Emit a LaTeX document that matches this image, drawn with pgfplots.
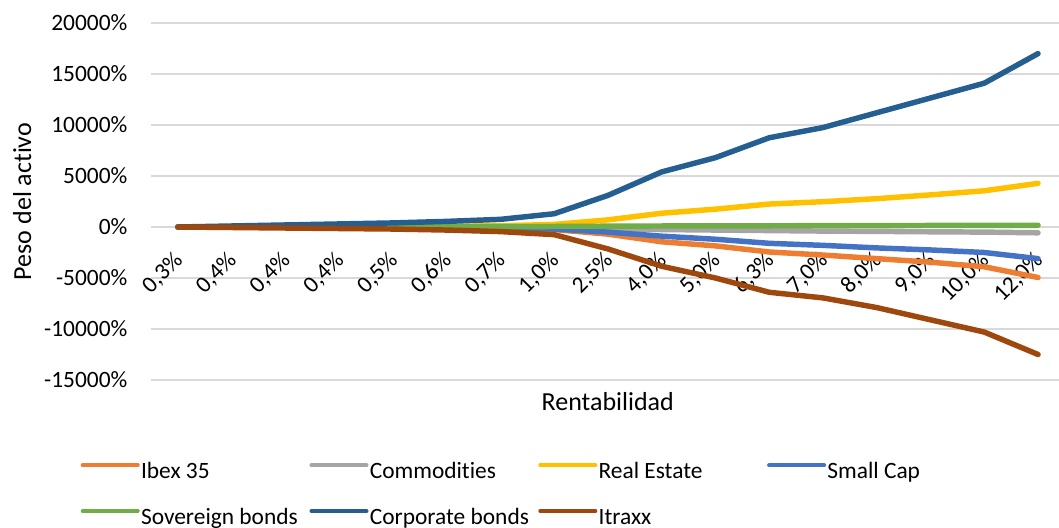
\documentclass[border=0pt]{standalone}
\usepackage{pgfplots}
\pgfplotsset{compat=1.18}
\usepackage{fontspec}
\setmainfont{Carlito}[Ligatures=NoCommon]
\definecolor{cIbex}{HTML}{ED7D31}
\definecolor{cComm}{HTML}{A5A5A5}
\definecolor{cReal}{HTML}{FFC000}
\definecolor{cSmall}{HTML}{4472C4}
\definecolor{cSov}{HTML}{70AD47}
\definecolor{cCorp}{HTML}{255E91}
\definecolor{cItr}{HTML}{9E480E}
\definecolor{cGrid}{HTML}{D9D9D9}
\newcommand{\lt}[1]{\makebox[64.8pt][l]{\rule[-6pt]{0pt}{17.5pt}#1}}
\begin{document}
\begin{tikzpicture}
\path[use as bounding box] (0,0) rectangle (407.31pt,203.08pt);
\begin{axis}[
  at={(58.08pt,194.23pt)}, anchor=north west,
  scale only axis, width=349.23pt, height=137.31pt,
  xmin=-0.5, xmax=16.39, ymin=-15000, ymax=20000,
  scaled y ticks=false,
  axis x line=middle, axis y line=left, axis line style={draw=none},
  major tick length=0pt,
  xtick={0,...,16},
  xticklabels={{0,3\%},{0,4\%},{0,4\%},{0,4\%},{0,5\%},{0,6\%},{0,7\%},{1,0\%},{2,5\%},{4,0\%},{5,0\%},{6,3\%},{7,0\%},{8,0\%},{9,0\%},{10,0\%},{12,0\%}},
  xticklabel style={rotate=45, anchor=east, font=\fontsize{9}{10.8}\selectfont, inner sep=1pt, yshift=-8.4pt, xshift=-6.6pt},
  ytick={-15000,-10000,-5000,0,5000,10000,15000,20000},
  yticklabels={-15000\%,-10000\%,-5000\%,0\%,5000\%,10000\%,15000\%,20000\%},
  yticklabel style={font=\fontsize{9}{10.8}\selectfont, anchor=east, inner sep=0pt, xshift=-8.9pt},
  ymajorgrids, major grid style={cGrid, line width=0.75pt},
  xlabel={Rentabilidad}, ylabel={Peso del activo},
  xlabel style={at={(axis description cs:0.503,-0.061)}, anchor=center, font=\fontsize{10}{12}\selectfont},
  ylabel style={at={(axis description cs:-0.142,0.5)}, anchor=center, rotate=0, font=\fontsize{10}{12}\selectfont},
  every axis plot/.append style={line width=2.1pt, line cap=round, line join=round},
  legend columns=4,
  legend style={draw=none, at={(axis description cs:-0.078,-0.190)}, anchor=north west,
    font=\fontsize{9}{10.8}\selectfont, inner sep=0pt, nodes={inner sep=0pt}, row sep=4.6pt,
    /tikz/every odd column/.append style={column sep=0.5pt}},
  legend image code/.code={\draw[#1, line width=1.5pt, line cap=round] (0pt,0pt) -- (21.2pt,0pt);},
]
\addplot[cIbex] coordinates {(0,0) (1,0) (2,-10) (3,-20) (4,-40) (5,-70) (6,-120) (7,-250) (8,-700) (9,-1450) (10,-1850) (11,-2450) (12,-2750) (13,-3100) (14,-3450) (15,-3900) (16,-4950)};
\addlegendentry{\lt{Ibex 35}}
\addplot[cComm] coordinates {(0,0) (1,0) (2,0) (3,-5) (4,-10) (5,-20) (6,-30) (7,-60) (8,-150) (9,-250) (10,-300) (11,-350) (12,-400) (13,-430) (14,-470) (15,-500) (16,-570)};
\addlegendentry{\lt{Commodities}}
\addplot[cReal] coordinates {(0,0) (1,10) (2,20) (3,30) (4,50) (5,80) (6,120) (7,250) (8,700) (9,1350) (10,1750) (11,2250) (12,2480) (13,2780) (14,3150) (15,3550) (16,4280)};
\addlegendentry{\lt{Real Estate}}
\addplot[cSmall] coordinates {(0,0) (1,0) (2,-10) (3,-20) (4,-40) (5,-60) (6,-100) (7,-200) (8,-500) (9,-900) (10,-1200) (11,-1600) (12,-1800) (13,-2050) (14,-2250) (15,-2500) (16,-3100)};
\addlegendentry{\lt{Small Cap}}
\addplot[cSov] coordinates {(0,0) (1,0) (2,5) (3,10) (4,15) (5,20) (6,30) (7,50) (8,80) (9,100) (10,110) (11,120) (12,130) (13,140) (14,150) (15,160) (16,170)};
\addlegendentry{\lt{Sovereign bonds}}
\addplot[cCorp] coordinates {(0,0) (1,100) (2,200) (3,300) (4,400) (5,550) (6,750) (7,1300) (8,3100) (9,5400) (10,6800) (11,8750) (12,9750) (13,11200) (14,12650) (15,14100) (16,17000)};
\addlegendentry{\lt{Corporate bonds}}
\addplot[cItr] coordinates {(0,0) (1,-50) (2,-100) (3,-150) (4,-200) (5,-300) (6,-450) (7,-750) (8,-2150) (9,-3850) (10,-5000) (11,-6400) (12,-6950) (13,-7900) (14,-9100) (15,-10300) (16,-12500)};
\addlegendentry{\lt{Itraxx}}
\end{axis}
\end{tikzpicture}
\end{document}
